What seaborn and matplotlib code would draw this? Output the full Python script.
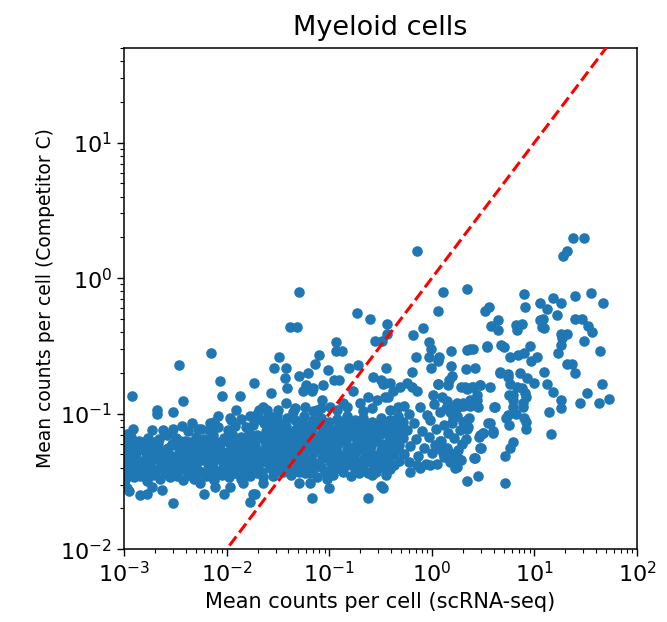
import matplotlib
matplotlib.use('Agg')
import matplotlib.pyplot as plt
import seaborn as sns
import pandas as pd
import numpy as np

# Points, stored as (log10 scRNA-seq mean, log10 Competitor C mean)

# dense band, low expression genes
band_low = [
    (-3.01, -1.19), (-2.93, -1.17), (-2.85, -1.20), (-2.77, -1.18), (-2.66, -1.19), (-2.58, -1.16),
    (-2.49, -1.18), (-2.41, -1.20), (-2.30, -1.17), (-2.22, -1.19), (-2.13, -1.16), (-2.03, -1.18),
    (-1.95, -1.15), (-1.86, -1.17), (-1.78, -1.14), (-1.70, -1.16), (-1.62, -1.13),
    (-2.62, -1.12), (-2.38, -1.13), (-2.28, -1.11), (-2.17, -1.12), (-2.08, -1.10), (-1.99, -1.12),
    (-1.92, -1.09), (-1.81, -1.10), (-1.74, -1.08), (-1.64, -1.07),
    (-2.12, -1.06), (-1.96, -1.05), (-1.86, -1.04), (-1.77, -1.02), (-1.68, -1.04), (-1.60, -1.01),
    (-3.00, -1.25), (-2.91, -1.23), (-2.83, -1.26), (-2.74, -1.24), (-2.67, -1.22), (-2.57, -1.25),
    (-2.50, -1.23), (-2.42, -1.26), (-2.33, -1.24), (-2.25, -1.22), (-2.15, -1.25), (-2.07, -1.23),
    (-1.99, -1.21), (-1.90, -1.24), (-1.81, -1.22), (-1.72, -1.23), (-1.63, -1.20),
    (-2.97, -1.31), (-2.88, -1.29), (-2.79, -1.32), (-2.71, -1.30), (-2.62, -1.28), (-2.53, -1.31),
    (-2.46, -1.29), (-2.36, -1.32), (-2.28, -1.30), (-2.19, -1.28), (-2.10, -1.31), (-2.02, -1.29),
    (-1.93, -1.31), (-1.85, -1.28), (-1.76, -1.30), (-1.67, -1.29), (-1.60, -1.27),
    (-3.01, -1.37), (-2.92, -1.35), (-2.85, -1.38), (-2.75, -1.36), (-2.66, -1.34), (-2.59, -1.37),
    (-2.49, -1.35), (-2.40, -1.38), (-2.31, -1.36), (-2.23, -1.34), (-2.14, -1.37), (-2.05, -1.35),
    (-1.96, -1.38), (-1.88, -1.35), (-1.80, -1.37), (-1.71, -1.34), (-1.62, -1.36),
    (-2.96, -1.43), (-2.87, -1.41), (-2.80, -1.44), (-2.70, -1.42), (-2.61, -1.40), (-2.52, -1.43),
    (-2.44, -1.41), (-2.35, -1.44), (-2.27, -1.42), (-2.18, -1.40), (-2.09, -1.43), (-2.00, -1.41),
    (-1.91, -1.44), (-1.83, -1.42), (-1.74, -1.40), (-1.66, -1.43),
    (-2.99, -1.49), (-2.90, -1.47), (-2.78, -1.50), (-2.65, -1.48), (-2.55, -1.47), (-2.43, -1.49),
    (-2.32, -1.48), (-2.20, -1.46), (-2.12, -1.49), (-1.98, -1.47), (-1.86, -1.48), (-1.77, -1.46),
    (-1.65, -1.47),
]

# filling between the rows above, where the reference band is solid
band_low_fill = [
    (-2.97, -1.21), (-2.88, -1.22), (-2.79, -1.20), (-2.70, -1.21), (-2.53, -1.22), (-2.45, -1.20),
    (-2.37, -1.21), (-2.26, -1.22), (-2.18, -1.20), (-2.09, -1.21), (-1.91, -1.20), (-1.83, -1.19),
    (-1.74, -1.20), (-1.66, -1.18),
    (-3.02, -1.27), (-2.93, -1.28), (-2.84, -1.26), (-2.75, -1.27), (-2.67, -1.28), (-2.58, -1.26),
    (-2.40, -1.27), (-2.32, -1.28), (-2.23, -1.26), (-2.14, -1.27), (-2.06, -1.26), (-1.97, -1.27),
    (-1.89, -1.26), (-1.80, -1.25), (-1.71, -1.27), (-1.63, -1.25),
    (-2.96, -1.33), (-2.87, -1.34), (-2.78, -1.32), (-2.70, -1.33), (-2.61, -1.34), (-2.53, -1.32),
    (-2.44, -1.33), (-2.27, -1.32), (-2.18, -1.34), (-2.09, -1.33), (-2.01, -1.32), (-1.92, -1.34),
    (-1.84, -1.32), (-1.75, -1.33), (-1.66, -1.32),
    (-3.00, -1.39), (-2.91, -1.40), (-2.82, -1.38), (-2.74, -1.39), (-2.65, -1.40), (-2.56, -1.38),
    (-2.47, -1.39), (-2.39, -1.40), (-2.30, -1.38), (-2.13, -1.39), (-2.04, -1.40), (-1.95, -1.38),
    (-1.87, -1.39), (-1.78, -1.40), (-1.69, -1.38),
    (-2.93, -1.45), (-2.84, -1.46), (-2.72, -1.45), (-2.60, -1.44), (-2.48, -1.46), (-2.38, -1.45),
    (-2.26, -1.44), (-2.16, -1.46), (-2.05, -1.45), (-1.93, -1.44), (-1.81, -1.45), (-1.70, -1.44),
]

# dense band, middle expression genes
band_mid = [
    (-1.70, -1.00), (-1.61, -0.97), (-1.51, -1.01), (-1.35, -0.99), (-1.24, -0.95), (-1.12, -0.97),
    (-0.99, -0.95), (-0.87, -0.92), (-0.70, -0.92), (-0.53, -0.90), (-0.46, -0.88),
    (-1.50, -0.97), (-1.33, -0.96), (-1.16, -0.98), (-1.08, -0.96), (-0.92, -0.97), (-0.83, -0.95),
    (-0.67, -0.98), (-0.58, -0.96), (-0.41, -0.97), (-0.33, -0.95),
    (-1.58, -1.04), (-1.50, -1.06), (-1.41, -1.03), (-1.33, -1.05), (-1.25, -1.02), (-1.16, -1.05),
    (-1.08, -1.03), (-1.00, -1.06), (-0.92, -1.04), (-0.83, -1.02), (-0.75, -1.05), (-0.67, -1.03),
    (-0.58, -1.06), (-0.50, -1.03), (-0.41, -1.05), (-0.33, -1.02),
    (-1.57, -1.10), (-1.49, -1.12), (-1.42, -1.09), (-1.32, -1.11), (-1.24, -1.08), (-1.17, -1.11),
    (-1.07, -1.09), (-0.99, -1.12), (-0.91, -1.10), (-0.84, -1.08), (-0.74, -1.11), (-0.66, -1.09),
    (-0.59, -1.12), (-0.49, -1.10), (-0.42, -1.08), (-0.32, -1.11),
    (-1.58, -1.16), (-1.50, -1.18), (-1.41, -1.15), (-1.33, -1.17), (-1.25, -1.14), (-1.16, -1.17),
    (-1.08, -1.15), (-1.00, -1.18), (-0.92, -1.16), (-0.83, -1.14), (-0.75, -1.17), (-0.67, -1.15),
    (-0.58, -1.18), (-0.50, -1.15), (-0.41, -1.17), (-0.33, -1.14),
    (-1.57, -1.22), (-1.49, -1.24), (-1.42, -1.21), (-1.32, -1.23), (-1.24, -1.20), (-1.17, -1.23),
    (-1.07, -1.21), (-0.99, -1.24), (-0.91, -1.22), (-0.84, -1.20), (-0.74, -1.23), (-0.66, -1.21),
    (-0.59, -1.24), (-0.49, -1.22), (-0.42, -1.20), (-0.32, -1.23),
    (-1.58, -1.28), (-1.50, -1.30), (-1.41, -1.27), (-1.33, -1.29), (-1.25, -1.26), (-1.16, -1.29),
    (-1.08, -1.27), (-1.00, -1.30), (-0.92, -1.28), (-0.83, -1.26), (-0.75, -1.29), (-0.67, -1.27),
    (-0.58, -1.30), (-0.50, -1.27), (-0.41, -1.29), (-0.33, -1.26),
    (-1.57, -1.34), (-1.49, -1.36), (-1.42, -1.33), (-1.32, -1.35), (-1.24, -1.32), (-1.17, -1.35),
    (-1.07, -1.33), (-0.99, -1.36), (-0.91, -1.34), (-0.84, -1.32), (-0.74, -1.35), (-0.66, -1.33),
    (-0.59, -1.36), (-0.49, -1.34), (-0.42, -1.32), (-0.32, -1.35),
    (-1.58, -1.40), (-1.50, -1.42), (-1.41, -1.39), (-1.33, -1.41), (-1.25, -1.38), (-1.16, -1.41),
    (-1.08, -1.39), (-1.00, -1.42), (-0.92, -1.40), (-0.83, -1.38), (-0.75, -1.41), (-0.67, -1.39),
    (-0.58, -1.42), (-0.50, -1.39), (-0.41, -1.41),
    (-1.55, -1.46), (-1.37, -1.45), (-1.12, -1.47), (-0.96, -1.45), (-0.79, -1.46), (-0.62, -1.44),
    (-0.45, -1.45),
]

band_mid_fill = [
    (-1.54, -1.07), (-1.45, -1.08), (-1.29, -1.07), (-1.20, -1.08), (-1.12, -1.06), (-1.04, -1.07),
    (-0.87, -1.06), (-0.79, -1.08), (-0.71, -1.07), (-0.54, -1.08), (-0.46, -1.06), (-0.37, -1.07),
    (-1.54, -1.13), (-1.37, -1.14), (-1.29, -1.12), (-1.20, -1.13), (-1.04, -1.12), (-0.96, -1.14),
    (-0.87, -1.13), (-0.79, -1.12), (-0.62, -1.13), (-0.54, -1.14), (-0.46, -1.12), (-0.37, -1.13),
    (-1.45, -1.19), (-1.37, -1.20), (-1.29, -1.19), (-1.12, -1.20), (-1.04, -1.19), (-0.96, -1.18),
    (-0.87, -1.19), (-0.71, -1.20), (-0.62, -1.19), (-0.54, -1.20), (-0.37, -1.19),
    (-1.54, -1.25), (-1.45, -1.26), (-1.37, -1.25), (-1.20, -1.24), (-1.12, -1.26), (-1.04, -1.25),
    (-0.96, -1.26), (-0.79, -1.25), (-0.71, -1.26), (-0.62, -1.24), (-0.46, -1.26), (-0.37, -1.25),
    (-1.54, -1.31), (-1.37, -1.32), (-1.29, -1.31), (-1.20, -1.32), (-1.04, -1.31), (-0.96, -1.32),
    (-0.87, -1.31), (-0.79, -1.30), (-0.62, -1.31), (-0.54, -1.32), (-0.46, -1.31), (-0.37, -1.30),
    (-1.54, -1.37), (-1.45, -1.38), (-1.29, -1.37), (-1.20, -1.38), (-1.12, -1.37), (-0.96, -1.38),
    (-0.87, -1.37), (-0.79, -1.36), (-0.71, -1.37), (-0.54, -1.38), (-0.46, -1.37), (-0.37, -1.38),
    (-1.45, -1.43), (-1.29, -1.43), (-1.20, -1.44), (-1.04, -1.43), (-0.87, -1.43), (-0.71, -1.44),
    (-0.54, -1.43),
]

# band thinning out towards 1 count per cell
band_high = [
    (-0.27, -0.94), (-0.12, -0.95), (0.02, -0.93), (0.14, -0.96),
    (-0.22, -1.00), (-0.05, -1.01), (0.08, -0.99), (0.25, -1.02),
    (-0.28, -1.06), (-0.17, -1.07), (-0.02, -1.05), (0.12, -1.08), (0.30, -1.06),
    (-0.24, -1.12), (-0.10, -1.13), (0.04, -1.11), (0.16, -1.14), (0.27, -1.12),
    (-0.28, -1.18), (-0.15, -1.19), (-0.03, -1.17), (0.09, -1.20), (0.22, -1.18), (0.33, -1.19),
    (-0.21, -1.24), (-0.08, -1.25), (0.03, -1.23), (0.15, -1.25),
    (-0.27, -1.30), (-0.13, -1.31), (0.00, -1.29), (0.12, -1.32),
    (-0.22, -1.36), (-0.06, -1.37),
    (0.06, -0.78), (0.01, -0.86), (0.10, -0.88), (0.15, -0.91), (0.18, -0.99), (0.26, -0.95),
    (0.30, -0.94), (0.37, -0.94), (0.45, -0.95), (0.44, -0.86), (0.47, -0.79), (0.39, -0.80),
    (0.32, -0.80), (0.57, -0.80), (0.62, -0.95), (0.66, -0.69), (0.74, -0.73), (0.79, -0.86),
    (-0.50, -0.75), (-0.46, -0.77), (-0.38, -0.83), (-0.43, -0.88), (-0.31, -0.80), (-0.24, -0.77),
    (-0.19, -0.80), (-0.14, -0.83),
    (0.35, -1.10), (0.34, -1.05), (0.47, -1.16), (0.50, -1.14), (0.55, -1.07), (0.60, -1.14),
    (0.42, -1.33), (0.47, -1.25), (0.23, -1.40), (0.28, -1.34), (0.25, -1.39), (0.18, -1.36),
]

# genes above the band
upper_left = [
    (-1.29, -0.10), (-1.38, -0.36), (-1.31, -0.36), (-0.73, -0.26), (-0.60, -0.30), (-0.44, -0.34),
    (-0.55, -0.46), (-0.49, -0.46), (-0.44, -0.41),
    (-2.15, -0.55), (-2.46, -0.64), (-2.92, -0.87), (-2.43, -0.91), (-1.49, -0.58), (-1.54, -0.66),
    (-1.42, -0.66), (-1.73, -0.77), (-2.06, -0.76), (-2.05, -0.87), (-1.87, -0.87), (-1.57, -0.85),
    (-1.43, -0.74), (-1.41, -0.81), (-1.29, -0.72), (-1.21, -0.70), (-1.10, -0.57), (-1.14, -0.63),
    (-0.93, -0.47), (-0.93, -0.54), (-0.88, -0.54), (-1.01, -0.68), (-1.23, -0.79), (-1.16, -0.81),
    (-1.06, -0.79), (-0.81, -0.66), (-0.72, -0.64), (-0.95, -0.75), (-0.90, -0.75), (-0.57, -0.73),
    (-0.48, -0.78), (-0.41, -0.77), (-0.77, -0.83), (-0.62, -0.88), (-1.42, -0.92), (-1.26, -0.83),
    (-1.17, -0.83), (-1.07, -0.90), (-1.645, -0.95), (-1.69, -1.03),
    (-2.68, -0.97), (-2.68, -1.00), (-2.52, -0.99), (-2.73, -1.12), (-2.91, -1.11), (-2.97, -1.15),
    (-1.91, -0.97), (-1.68, -0.97), (-2.52, -1.11), (-2.44, -1.09), (-2.34, -1.07), (-2.25, -1.11),
    (-2.16, -1.07), (-2.08, -1.02), (-1.97, -1.03),
    (-0.45, -0.66), (-0.09, -0.37), (-0.18, -0.42), (-0.15, -0.58), (-0.19, -0.69),
    (-0.03, -0.47), (-0.01, -0.52), (-0.03, -0.58), (-0.01, -0.66), (0.07, -0.58), (0.06, -0.61),
]

# genes below the band
lower = [
    (-2.52, -1.66), (-2.22, -1.59), (-2.03, -1.59), (-1.77, -1.65), (-1.74, -1.59), (-1.29, -1.51),
    (-1.17, -1.62), (-1.00, -1.55), (-0.62, -1.62), (-2.84, -1.60), (-2.78, -1.59), (-2.97, -1.55),
    (-2.73, -1.54), (-2.63, -1.56), (-2.95, -1.57), (-2.26, -1.51), (-2.11, -1.54), (-1.97, -1.54),
    (-1.84, -1.51), (-1.02, -1.48), (-0.58, -1.45), (-0.50, -1.53), (-0.48, -1.55), (-1.19, -1.51),
    (-1.24, -1.44), (-1.645, -1.51), (-1.72, -1.59), (-0.12, -1.40), (-0.21, -1.43), (-0.14, -1.38),
    (-0.02, -1.38), (0.05, -1.37), (0.71, -1.51), (0.45, -1.46), (0.34, -1.50),
]

# highly expressed genes, sparse
upper_right = [
    (-0.14, 0.20), (1.38, 0.30), (1.48, 0.30), (1.28, 0.16), (1.32, 0.20),
    (0.11, -0.10), (0.34, -0.08), (0.06, -0.24), (0.90, -0.12),
    (1.40, -0.13), (1.55, -0.11), (1.67, -0.18),
    (1.05, -0.18), (1.18, -0.15), (1.26, -0.18), (0.91, -0.21), (1.12, -0.23), (1.22, -0.27),
    (0.52, -0.24), (0.56, -0.21), (1.08, -0.30), (1.07, -0.36), (1.09, -0.37), (1.05, -0.31),
    (0.58, -0.35), (0.645, -0.31), (0.645, -0.38), (0.83, -0.38), (0.88, -0.34), (0.82, -0.345),
    (1.40, -0.30), (1.46, -0.30), (1.52, -0.35), (1.56, -0.40),
    (1.26, -0.41), (1.32, -0.41), (1.27, -0.44), (1.26, -0.49), (1.23, -0.55),
    (1.48, -0.46), (1.64, -0.54), (1.32, -0.63), (1.37, -0.63), (1.40, -0.70), (1.66, -0.78),
    (1.51, -0.85), (1.44, -0.92), (1.63, -0.92), (1.73, -0.89),
    (1.26, -0.90), (1.26, -0.96), (1.14, -0.99), (1.16, -1.15),
    (1.09, -0.69), (1.12, -0.78), (1.18, -0.84), (1.00, -0.77),
    (0.96, -0.50), (1.03, -0.58), (0.97, -0.61), (0.90, -0.55), (0.84, -0.57), (0.76, -0.58),
    (0.67, -0.49), (0.70, -0.51), (0.54, -0.50),
    (0.665, -0.70), (0.74, -0.71), (0.86, -0.70), (0.93, -0.74),
    (0.76, -0.78), (0.83, -0.80), (0.88, -0.81), (0.91, -0.85), (0.92, -0.88), (0.89, -0.92),
    (0.75, -0.86), (0.79, -0.90), (0.89, -0.95), (0.90, -1.03), (0.92, -1.06), (0.92, -1.11),
    (0.74, -1.01), (0.75, -1.08), (0.72, -1.03), (0.79, -0.95), (0.82, -1.00),
    (0.79, -1.21), (0.76, -1.25), (0.71, -1.31),
    (0.61, -0.95), (0.57, -1.07), (0.60, -1.13), (0.50, -1.14), (0.46, -1.17), (0.48, -1.25),
    (0.41, -1.33), (0.36, -1.03), (0.34, -1.11),
    (0.42, -0.66), (0.33, -0.67), (0.37, -0.52), (0.40, -0.52), (0.34, -0.53), (0.54, -0.51),
    (0.19, -0.54), (0.19, -0.65), (0.20, -0.72), (0.17, -0.75), (0.16, -0.79), (0.06, -0.78),
    (0.28, -0.80), (0.34, -0.82), (0.40, -0.80), (0.47, -0.79),
    (0.25, -0.92), (0.30, -0.92), (0.37, -0.90), (0.44, -0.90),
    (0.18, -0.95), (0.21, -1.03), (0.20, -1.07),
    (0.29, -1.22), (0.26, -1.27), (0.26, -1.33), (0.18, -1.29), (0.11, -1.29),
    (0.08, -1.20), (0.06, -1.25),
]

groups = (band_low + band_low_fill + band_mid + band_mid_fill + band_high
          + upper_left + lower + upper_right)
log_pts = np.array(groups)
df = pd.DataFrame({
    'scrna': 10 ** log_pts[:, 0],
    'competitor': 10 ** log_pts[:, 1],
})

x_limits = (1e-3, 1e2)
y_limits = (1e-2, 50)

sns.set_style('ticks', {'axes.edgecolor': 'black', 'xtick.color': 'black', 'ytick.color': 'black',
                        'text.color': 'black', 'axes.labelcolor': 'black'})
plt.rcParams['font.family'] = ['DejaVu Sans']

fig = plt.figure(figsize=(6.67, 6.22), dpi=100)
ax = fig.add_axes([0.186, 0.117, 0.769, 0.806])

sns.scatterplot(data=df, x='scrna', y='competitor', ax=ax,
                color='#1f77b4', s=58, linewidth=0, alpha=1, zorder=2)

# identity line
ax.plot(x_limits, x_limits, color='red', linestyle='--', linewidth=2.2, zorder=3)

ax.set_xscale('log')
ax.set_yscale('log')
ax.set_xlim(x_limits)
ax.set_ylim(y_limits)

ax.set_title('Myeloid cells', fontsize=19.5, pad=9, color='black')
ax.set_xlabel('Mean counts per cell (scRNA-seq)', fontsize=15)
ax.set_ylabel('Mean counts per cell (Competitor C)', fontsize=13.5)
ax.tick_params(axis='both', which='major', labelsize=16, length=5, width=1)
ax.tick_params(axis='both', which='minor', length=3, width=0.8)
for side in ax.spines.values():
    side.set_linewidth(1.1)

plt.savefig('out.png', dpi=100)
